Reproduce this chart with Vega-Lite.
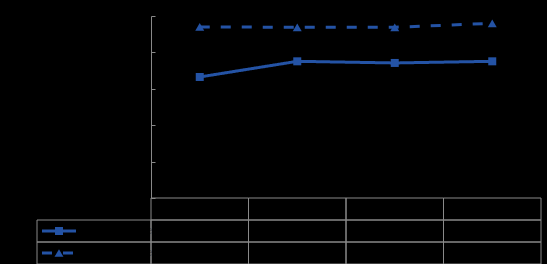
{
  "$schema": "https://vega.github.io/schema/vega-lite/v6.json",
  "background": "#000000",
  "padding": {"left": 35, "top": 15, "right": 6, "bottom": 0},
  "bounds": "flush",
  "columns": 2,
  "spacing": 0,
  "config": {
    "view": {"stroke": null},
    "concat": {"spacing": 0},
    "text": {"color": "#000000", "font": "Liberation Sans", "fontSize": 10},
    "axis": {"labelColor": "#000000", "titleColor": "#000000", "labelFont": "Liberation Sans"}
  },
  "datasets": {
    "values": [
      {"category": "Category 1", "series": "Series 1", "value": 66.5},
      {"category": "Category 2", "series": "Series 1", "value": 75.1},
      {"category": "Category 3", "series": "Series 1", "value": 74.2},
      {"category": "Category 4", "series": "Series 1", "value": 75.1},
      {"category": "Category 1", "series": "Series 2", "value": 94.0},
      {"category": "Category 2", "series": "Series 2", "value": 93.8},
      {"category": "Category 3", "series": "Series 2", "value": 93.8},
      {"category": "Category 4", "series": "Series 2", "value": 96.0}
    ]
  },
  "concat": [
    {"width": 114, "height": 182, "data": {"values": []}, "mark": "text"},
    {
      "width": 390,
      "height": 182,
      "data": {"name": "values"},
      "encoding": {
        "x": {"field": "category", "type": "nominal", "scale": {"type": "point", "padding": 0.5}, "axis": null},
        "y": {
          "field": "value",
          "type": "quantitative",
          "scale": {"domain": [0, 100], "nice": false},
          "axis": {
            "values": [0, 20, 40, 60, 80, 100],
            "grid": false,
            "title": null,
            "domainColor": "#898989",
            "tickColor": "#898989",
            "tickSize": -4,
            "labelPadding": 8,
            "labelFlush": true
          }
        }
      },
      "layer": [
        {
          "mark": {"type": "line", "strokeWidth": 3, "color": "#2453A5"},
          "encoding": {
            "strokeDash": {"field": "series", "type": "nominal", "scale": {"domain": ["Series 1", "Series 2"], "range": [[1, 0], [10, 11]]}, "legend": null}
          }
        },
        {
          "mark": {"type": "point", "filled": true, "opacity": 1, "color": "#2453A5"},
          "encoding": {
            "shape": {"field": "series", "type": "nominal", "scale": {"domain": ["Series 1", "Series 2"], "range": ["square", "triangle-up"]}, "legend": null},
            "size": {"field": "series", "type": "nominal", "scale": {"domain": ["Series 1", "Series 2"], "range": [64, 80]}, "legend": null}
          }
        }
      ]
    },
    {
      "width": 114,
      "height": 66,
      "data": {"name": "values"},
      "transform": [{"aggregate": [], "groupby": ["series"]}],
      "encoding": {
        "y": {"field": "series", "type": "nominal", "scale": {"type": "band", "domain": ["header", "Series 1", "Series 2"], "paddingInner": 0, "paddingOuter": 0}, "axis": null}
      },
      "layer": [
        {"mark": {"type": "rect", "filled": false, "color": "#898989", "strokeWidth": 1}},
        {
          "mark": {"type": "point", "shape": "stroke", "size": 1156, "strokeWidth": 3, "filled": false, "color": "#2453A5", "opacity": 1},
          "encoding": {
            "x": {"datum": "key", "type": "nominal", "scale": {"type": "point", "domain": ["key", "name"], "padding": 0.314}, "axis": null},
            "strokeDash": {"field": "series", "type": "nominal", "scale": {"domain": ["Series 1", "Series 2"], "range": [[1, 0], [12, 9]]}, "legend": null}
          }
        },
        {
          "mark": {"type": "point", "filled": true, "opacity": 1, "color": "#2453A5"},
          "encoding": {
            "x": {"datum": "key", "type": "nominal", "scale": {"type": "point", "domain": ["key", "name"], "padding": 0.314}, "axis": null},
            "shape": {"field": "series", "type": "nominal", "scale": {"domain": ["Series 1", "Series 2"], "range": ["square", "triangle-up"]}, "legend": null},
            "size": {"field": "series", "type": "nominal", "scale": {"domain": ["Series 1", "Series 2"], "range": [64, 80]}, "legend": null}
          }
        },
        {
          "mark": {"type": "text", "align": "left", "color": "#000000"},
          "encoding": {
            "x": {"datum": "name", "type": "nominal", "scale": {"type": "point", "domain": ["key", "name"], "padding": 0.314}, "axis": null},
            "text": {"field": "series"}
          }
        }
      ]
    },
    {
      "width": 390,
      "height": 66,
      "data": {"name": "values"},
      "encoding": {
        "x": {"field": "category", "type": "nominal", "scale": {"type": "band", "paddingInner": 0, "paddingOuter": 0}, "axis": null}
      },
      "layer": [
        {
          "transform": [{"aggregate": [], "groupby": ["category"]}],
          "mark": {"type": "rect", "filled": false, "color": "#898989", "strokeWidth": 1},
          "encoding": {
            "y": {"datum": "header", "type": "nominal", "scale": {"type": "band", "domain": ["header", "Series 1", "Series 2"], "paddingInner": 0, "paddingOuter": 0}, "axis": null}
          }
        },
        {
          "transform": [{"aggregate": [], "groupby": ["category"]}],
          "mark": {"type": "text", "color": "#000000"},
          "encoding": {
            "y": {"datum": "header", "type": "nominal"},
            "text": {"field": "category"}
          }
        },
        {
          "mark": {"type": "rect", "filled": false, "color": "#898989", "strokeWidth": 1},
          "encoding": {
            "y": {"field": "series", "type": "nominal"}
          }
        },
        {
          "mark": {"type": "text", "color": "#000000"},
          "encoding": {
            "y": {"field": "series", "type": "nominal"},
            "text": {"field": "value", "type": "quantitative", "format": ".1f"}
          }
        }
      ]
    }
  ]
}
